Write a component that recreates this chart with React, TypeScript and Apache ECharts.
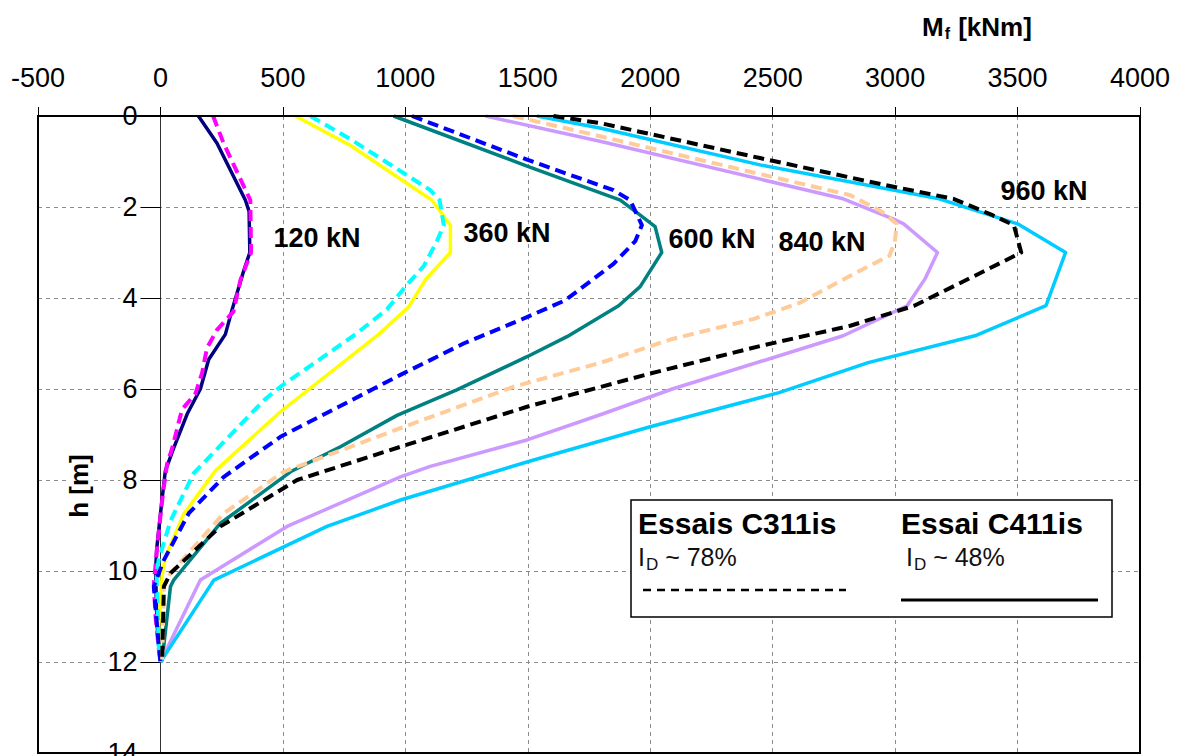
import React, { useEffect, useRef } from "react";
import * as echarts from "echarts";

// ---- axes ----
const momentMin = -500;
const momentMax = 4000;
const momentStep = 500;
const depthMin = 0;
const depthMax = 14;
const depthStep = 2;

// ---- data: [M_f (kNm), h (m)] ----
const c411_120: [number, number][] = [
  [155, 0], [231, 0.6], [347, 1.85], [362, 2.1], [365, 3.0], [340, 3.4], [293, 4.25], [265, 4.8],
  [197, 5.35], [163, 6.0], [109, 6.55], [54, 7.3], [20, 7.8], [5, 8.5], [-15, 9.5], [-20, 10.0],
  [-15, 11.0], [-10, 11.5], [0, 12],
];
const c311_120: [number, number][] = [
  [215, 0], [258, 0.6], [367, 1.85], [370, 3.0], [327, 3.6], [298, 4.3], [231, 4.7], [190, 5.1],
  [170, 5.65], [143, 6.1], [88, 6.45], [48, 7.3], [27, 7.65], [10, 8.3], [-14, 9.5], [-27, 10.3],
  [-20, 11.0], [-7, 11.7], [0, 12],
];
const c411_360: [number, number][] = [
  [551, 0], [776, 0.65], [1109, 1.85], [1184, 2.4], [1184, 3.0], [1082, 3.6], [1013, 4.2], [891, 4.8],
  [490, 6.5], [224, 7.8], [95, 8.75], [20, 9.7], [7, 10.1], [-7, 11.2], [0, 12],
];
const c311_360: [number, number][] = [
  [612, 0], [782, 0.53], [1102, 1.63], [1140, 1.85], [1157, 2.4], [1129, 2.75], [1075, 3.3], [1000, 3.75],
  [925, 4.25], [796, 4.8], [490, 5.95], [422, 6.25], [136, 7.85], [41, 8.9], [-7, 9.75], [-16, 10.05],
  [-7, 11.65], [0, 12],
];
const c311_600: [number, number][] = [
  [1027, 0], [1497, 0.96], [1850, 1.63], [1918, 1.85], [1966, 2.4], [1939, 2.75], [1850, 3.25], [1653, 4.05],
  [1497, 4.42], [1238, 5.0], [980, 5.69], [653, 6.6], [490, 7.05], [259, 7.93], [116, 8.73], [14, 9.76],
  [-27, 10.34], [-14, 11.2], [0, 12],
];
const c411_600: [number, number][] = [
  [952, 0], [1497, 1.1], [1878, 1.85], [1959, 2.18], [2020, 2.43], [2047, 3.0], [1959, 3.75], [1871, 4.17],
  [1660, 4.85], [1497, 5.29], [1210, 6.02], [966, 6.58], [735, 7.27], [531, 7.82], [245, 8.95], [54, 10.2],
  [41, 10.34], [7, 11.96], [0, 12],
];
const c311_840: [number, number][] = [
  [1440, 0], [1799, 0.45], [2526, 1.375], [2817, 1.74], [2948, 2.11], [3006, 2.37], [2999, 2.77], [2977, 3.07],
  [2817, 3.51], [2613, 4.1], [2424, 4.46], [2090, 4.9], [1799, 5.42], [1442, 5.95], [980, 6.86], [503, 7.82],
  [259, 8.73], [41, 10.05], [14, 10.34], [7, 11.96], [0, 12],
];
const c411_840: [number, number][] = [
  [1327, 0], [1799, 0.56], [2788, 1.82], [2991, 2.26], [3035, 2.37], [3173, 3.0], [3122, 3.58], [3049, 4.17],
  [2788, 4.83], [2090, 6.0], [1799, 6.56], [1497, 7.12], [1102, 7.7], [980, 7.93], [517, 9.02], [163, 10.2],
  [0, 12],
];
const c311_960: [number, number][] = [
  [1605, 0], [1799, 0.16], [2453, 0.93], [2962, 1.52], [3238, 1.82], [3398, 2.18], [3485, 2.4], [3515, 3.0],
  [3326, 3.51], [3078, 4.17], [2817, 4.61], [2453, 5.05], [2000, 5.66], [1497, 6.39], [980, 7.27], [558, 8.0],
  [245, 9.02], [41, 10.05], [14, 10.34], [7, 11.96], [0, 12],
];
const c411_960: [number, number][] = [
  [1537, 0], [1799, 0.27], [2453, 1.08], [3180, 1.82], [3500, 2.37], [3696, 3.0], [3616, 4.17], [3326, 4.83],
  [2890, 5.42], [2526, 6.08], [2000, 6.83], [1524, 7.56], [980, 8.44], [680, 9.02], [218, 10.2], [0, 12],
];

const loadLabels = ["120 kN", "360 kN", "600 kN", "840 kN", "960 kN"];
const testNames = ["Essais C311is", "Essai C411is"];
const densityLabels = ["78%", "48%"];

const FONT = "'Liberation Sans', Arial, Helvetica, sans-serif";

const seriesDefs = [
  { name: "C411is 120 kN", data: c411_120, color: "#000080", dashed: false },
  { name: "C411is 360 kN", data: c411_360, color: "#FFFF00", dashed: false },
  { name: "C411is 600 kN", data: c411_600, color: "#008080", dashed: false },
  { name: "C411is 840 kN", data: c411_840, color: "#CC99FF", dashed: false },
  { name: "C411is 960 kN", data: c411_960, color: "#00CCFF", dashed: false },
  { name: "C311is 120 kN", data: c311_120, color: "#FF00FF", dashed: true },
  { name: "C311is 360 kN", data: c311_360, color: "#00FFFF", dashed: true },
  { name: "C311is 600 kN", data: c311_600, color: "#0000FF", dashed: true },
  { name: "C311is 840 kN", data: c311_840, color: "#FFCC99", dashed: true },
  { name: "C311is 960 kN", data: c311_960, color: "#000000", dashed: true },
];

const W = 1180;
const H = 756;
const GRID = { left: 38, right: 40, top: 116, bottom: 3 };

export default function App() {
  const ref = useRef<HTMLDivElement>(null);

  useEffect(() => {
    if (!ref.current) return;
    const chart = echarts.init(ref.current, undefined, { renderer: "svg" });

    const gridLine = { color: "#8c8c8c", width: 1, type: [4, 4] as number[] };
    const labelPos = [
      [317, 238],
      [507, 233],
      [712, 239],
      [822, 242],
      [1044, 191],
    ];
    // shift the y axis (ticks, labels, line) onto M = 0
    const plotW = W - GRID.left - GRID.right;
    const plotH = H - GRID.top - GRID.bottom;
    const yAxisOffset = -(plotW * (0 - momentMin)) / (momentMax - momentMin);

    const option: any = {
      animation: false,
      textStyle: { fontFamily: FONT },
      grid: {
        ...GRID,
        outerBoundsMode: "none",
        containLabel: false,
        show: false,
      },
      xAxis: {
        type: "value",
        position: "top",
        min: momentMin,
        max: momentMax,
        interval: momentStep,
        axisLine: { show: true, onZero: false, lineStyle: { color: "#000", width: 2 } },
        axisTick: { show: true, inside: false, length: 9, lineStyle: { color: "#000", width: 1 } },
        axisLabel: {
          fontSize: 27,
          color: "#000",
          margin: 25,
          fontFamily: FONT,
          showMinLabel: true,
          showMaxLabel: true,
          formatter: (v: number) => String(v),
        },
        splitLine: { show: true, lineStyle: gridLine },
      },
      yAxis: {
        type: "value",
        inverse: true,
        position: "left",
        offset: yAxisOffset,
        min: depthMin,
        max: depthMax,
        interval: depthStep,
        axisLine: { show: true, onZero: false, lineStyle: { color: "#333", width: 1 } },
        axisTick: { show: true, inside: false, length: 20, lineStyle: { color: "#000", width: 1 } },
        axisLabel: {
          fontSize: 27,
          color: "#000",
          margin: 21,
          fontFamily: FONT,
          backgroundColor: "#fff",
          padding: [0, 2],
          showMinLabel: true,
          showMaxLabel: true,
          formatter: (v: number) => String(v),
        },
        splitLine: { show: true, lineStyle: gridLine },
      },
      series: seriesDefs.map((s) => ({
        name: s.name,
        type: "line",
        data: s.data,
        symbol: "none",
        smooth: false,
        z: s.dashed ? 4 : 3,
        lineStyle: {
          color: s.color,
          width: s.dashed ? 4 : 3.5,
          type: s.dashed ? [11, 6] : "solid",
          cap: "butt",
          join: "round",
        },
      })),
      graphic: [
        {
          type: "rect",
          z: 50,
          silent: true,
          shape: { x: GRID.left, y: GRID.top, width: plotW, height: plotH },
          style: { fill: "none", stroke: "#000", lineWidth: 2 },
        },
        ...loadLabels.map((t, i) => ({
          type: "text",
          x: labelPos[i][0],
          y: labelPos[i][1],
          z: 100,
          style: {
            text: t,
            fontSize: 27,
            fontWeight: "bold",
            fontFamily: FONT,
            fill: "#000",
            align: "center",
            verticalAlign: "middle",
          },
        })),
        {
          type: "text",
          x: 922,
          y: 27,
          z: 100,
          style: {
            text: "{m|M}{s|f}{m| [kNm]}",
            fontFamily: FONT,
            align: "left",
            verticalAlign: "middle",
            rich: {
              m: { fontSize: 26, fontWeight: "bold", fontFamily: FONT, fill: "#000", color: "#000" },
              s: {
                fontSize: 16,
                fontWeight: "bold",
                fontFamily: FONT,
                fill: "#000",
                color: "#000",
                verticalAlign: "bottom",
                padding: [12, 1, 0, 1],
              },
            },
          },
        },
        {
          type: "text",
          x: 79,
          y: 486,
          rotation: Math.PI / 2,
          z: 100,
          style: {
            text: "h [m]",
            fontSize: 26,
            fontWeight: "bold",
            fontFamily: FONT,
            fill: "#000",
            align: "center",
            verticalAlign: "middle",
            backgroundColor: "#fff",
            padding: [0, 2],
          },
        },
        {
          type: "rect",
          z: 100,
          shape: { x: 631, y: 500, width: 481, height: 117 },
          style: { fill: "#fff", stroke: "#000", lineWidth: 1.5 },
        },
        {
          type: "text",
          x: 638,
          y: 523,
          z: 101,
          style: {
            text: testNames[0],
            fontSize: 30,
            fontWeight: "bold",
            fontFamily: FONT,
            fill: "#000",
            align: "left",
            verticalAlign: "middle",
          },
        },
        {
          type: "text",
          x: 901,
          y: 523,
          z: 101,
          style: {
            text: testNames[1],
            fontSize: 30,
            fontWeight: "bold",
            fontFamily: FONT,
            fill: "#000",
            align: "left",
            verticalAlign: "middle",
          },
        },
        ...densityLabels.map((d, i) => ({
          type: "text",
          x: i === 0 ? 638 : 906,
          y: 557,
          z: 101,
          style: {
            text: "{i|I}{s|D}{i| ~ " + d + "}",
            fontFamily: FONT,
            align: "left",
            verticalAlign: "middle",
            rich: {
              i: { fontSize: 25, fontFamily: FONT, fill: "#111", color: "#111" },
              s: {
                fontSize: 17,
                fontFamily: FONT,
                fill: "#111",
                color: "#111",
                verticalAlign: "bottom",
                padding: [14, 0, 0, 1],
              },
            },
          },
        })),
        {
          type: "line",
          z: 101,
          shape: { x1: 643, y1: 590, x2: 846, y2: 590 },
          style: { stroke: "#000", lineWidth: 2.5, lineDash: [8, 6] },
        },
        {
          type: "line",
          z: 101,
          shape: { x1: 901, y1: 600, x2: 1098, y2: 600 },
          style: { stroke: "#000", lineWidth: 3 },
        },
      ],
    };

    chart.setOption(option);
    return () => {
      chart.dispose();
    };
  }, []);

  return (
    <div
      ref={ref}
      style={{ position: "fixed", left: 0, top: 0, width: W, height: H, background: "#fff" }}
    />
  );
}
